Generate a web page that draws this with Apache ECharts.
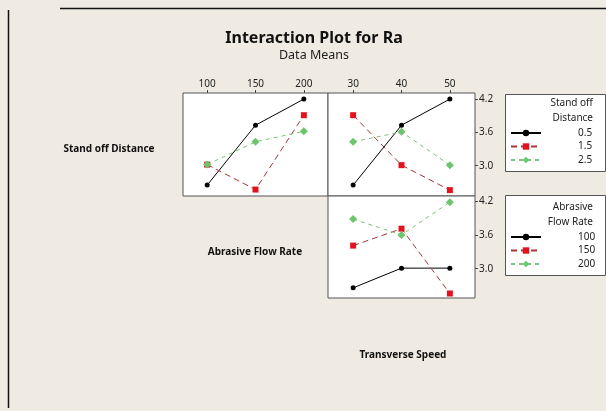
<!DOCTYPE html>
<html>
<head>
<meta charset="utf-8">
<script src="https://cdn.jsdelivr.net/npm/echarts@6/dist/echarts.min.js"></script>
<style>
html,body{margin:0;padding:0;background:#EFEBE2;}
#chart{width:606px;height:411px;}
</style>
</head>
<body>
<div id="chart"></div>
<script>
// ---- data ----
const sodLevels = ['0.5', '1.5', '2.5'];        // Stand off Distance levels
const afrLevels = ['100', '150', '200'];        // Abrasive Flow Rate levels
const afrTicks = [100, 150, 200];
const tsTicks = [30, 40, 50];                   // Transverse Speed
const raTicks = [3.0, 3.6, 4.2];

// Ra means vs Abrasive Flow Rate, per Stand off Distance
const sod05_vsAFR = [2.65, 3.73, 4.20];
const sod15_vsAFR = [3.02, 2.57, 3.91];
const sod25_vsAFR = [3.02, 3.43, 3.62];
// Ra means vs Transverse Speed, per Stand off Distance
const sod05_vsTS = [2.65, 3.73, 4.20];
const sod15_vsTS = [3.91, 3.01, 2.56];
const sod25_vsTS = [3.43, 3.61, 3.01];
// Ra means vs Transverse Speed, per Abrasive Flow Rate
const afr100_vsTS = [2.66, 3.01, 3.01];
const afr150_vsTS = [3.41, 3.71, 2.56];
const afr200_vsTS = [3.88, 3.60, 4.18];

// ---- styles ----
const FONT = 'Noto Sans';
const styles = [
  { color: '#000000', line: '#000000', type: 'solid', symbol: 'circle', size: 5 },
  { color: '#E3121C', line: '#A8353A', type: [6, 4], symbol: 'rect', size: 6 },
  { color: '#6CC46C', line: '#7CC27C', type: [4, 4], symbol: 'diamond', size: 8 }
];

function pairs(xs, ys) { return xs.map((x, i) => [x, ys[i]]); }
function mk(name, xs, ys, k, gi) {
  const s = styles[k];
  return {
    name: name, type: 'line', xAxisIndex: gi, yAxisIndex: gi,
    data: pairs(xs, ys), symbol: s.symbol, symbolSize: s.size,
    itemStyle: { color: s.color },
    lineStyle: { color: s.line, width: 1, type: s.type },
    emphasis: { disabled: true }, animation: false
  };
}

const grids = [
  { left: 183, top: 93, width: 145, height: 103 },
  { left: 328, top: 93, width: 147, height: 103 },
  { left: 328, top: 196, width: 147, height: 102 }
].map(g => Object.assign(g, { show: true, backgroundColor: '#ffffff', borderColor: '#555555', borderWidth: 1 }));

const labelStyle = { fontFamily: FONT, fontSize: 10, color: '#222' };
function xAx(gi, min, max, ticks, showLabels) {
  return {
    type: 'value', gridIndex: gi, position: 'top', min: min, max: max,
    splitLine: { show: false }, axisLine: { show: false },
    axisTick: { show: showLabels, inside: false, length: 3, lineStyle: { color: '#444' }, customValues: ticks },
    axisLabel: Object.assign({ show: showLabels, margin: 4, customValues: ticks }, labelStyle)
  };
}
function yAx(gi, min, max, showLabels) {
  return {
    type: 'value', gridIndex: gi, position: 'right', min: min, max: max,
    splitLine: { show: false }, axisLine: { show: false },
    axisTick: { show: showLabels, inside: false, length: 3, lineStyle: { color: '#444' }, customValues: raTicks },
    axisLabel: Object.assign({ show: showLabels, margin: 4, customValues: raTicks, formatter: v => v.toFixed(1) }, labelStyle)
  };
}

const series = [
  mk(sodLevels[0], afrTicks, sod05_vsAFR, 0, 0),
  mk(sodLevels[1], afrTicks, sod15_vsAFR, 1, 0),
  mk(sodLevels[2], afrTicks, sod25_vsAFR, 2, 0),
  mk(sodLevels[0], tsTicks, sod05_vsTS, 0, 1),
  mk(sodLevels[1], tsTicks, sod15_vsTS, 1, 1),
  mk(sodLevels[2], tsTicks, sod25_vsTS, 2, 1),
  mk(afrLevels[0], tsTicks, afr100_vsTS, 0, 2),
  mk(afrLevels[1], tsTicks, afr150_vsTS, 1, 2),
  mk(afrLevels[2], tsTicks, afr200_vsTS, 2, 2)
];

function legend(names, top) {
  return {
    data: names, orient: 'vertical', left: 510, top: top, padding: 0,
    itemWidth: 30, itemHeight: 8, itemGap: 3.5, selectedMode: false,
    textStyle: { fontFamily: FONT, fontSize: 10, color: '#222', lineHeight: 10, padding: [0, 0, 0, 32] }
  };
}

function txt(x, y, text, opts) {
  return { type: 'text', x: x, y: y, silent: true, z: 10,
    style: Object.assign({ text: text, fontFamily: FONT, fontSize: 10, fill: '#222', textVerticalAlign: 'middle' }, opts) };
}

const graphic = [
  { type: 'line', shape: { x1: 8.5, y1: 10, x2: 8.5, y2: 408 }, style: { stroke: '#111', lineWidth: 1.5 }, silent: true },
  { type: 'line', shape: { x1: 60, y1: 8.5, x2: 606, y2: 8.5 }, style: { stroke: '#111', lineWidth: 1.5 }, silent: true },
  { type: 'rect', shape: { x: 505.5, y: 94.5, width: 100, height: 77 }, style: { fill: '#fff', stroke: '#555', lineWidth: 1 }, z: 0, silent: true },
  { type: 'rect', shape: { x: 505.5, y: 195.5, width: 100, height: 80 }, style: { fill: '#fff', stroke: '#555', lineWidth: 1 }, z: 0, silent: true },
  txt(593, 103, 'Stand off', { textAlign: 'right' }),
  txt(593, 118, 'Distance', { textAlign: 'right' }),
  txt(593, 207, 'Abrasive', { textAlign: 'right' }),
  txt(593, 222, 'Flow Rate', { textAlign: 'right' }),
  txt(314, 38, 'Interaction Plot for Ra', { textAlign: 'center', fontSize: 16, fontWeight: 'bold', fill: '#111' }),
  txt(314, 55, 'Data Means', { textAlign: 'center', fontSize: 12.5, fill: '#222' }),
  txt(109, 149, 'Stand off Distance', { textAlign: 'center', fontSize: 10, fontWeight: 'bold', fill: '#111' }),
  txt(255, 252, 'Abrasive Flow Rate', { textAlign: 'center', fontSize: 10, fontWeight: 'bold', fill: '#111' }),
  txt(403, 355, 'Transverse Speed', { textAlign: 'center', fontSize: 10, fontWeight: 'bold', fill: '#111' })
];

const chart = echarts.init(document.getElementById('chart'), null, { renderer: 'canvas' });
chart.setOption({
  backgroundColor: '#EFEBE2',
  animation: false,
  grid: grids,
  xAxis: [xAx(0, 75, 225, afrTicks, true), xAx(1, 24.8, 55.2, tsTicks, true), xAx(2, 24.8, 55.2, tsTicks, false)],
  yAxis: [yAx(0, 2.454, 4.31, false), yAx(1, 2.454, 4.31, true), yAx(2, 2.48, 4.29, true)],
  legend: [legend(sodLevels, 128), legend(afrLevels, 232)],
  graphic: graphic,
  series: series
});
</script>
</body>
</html>
